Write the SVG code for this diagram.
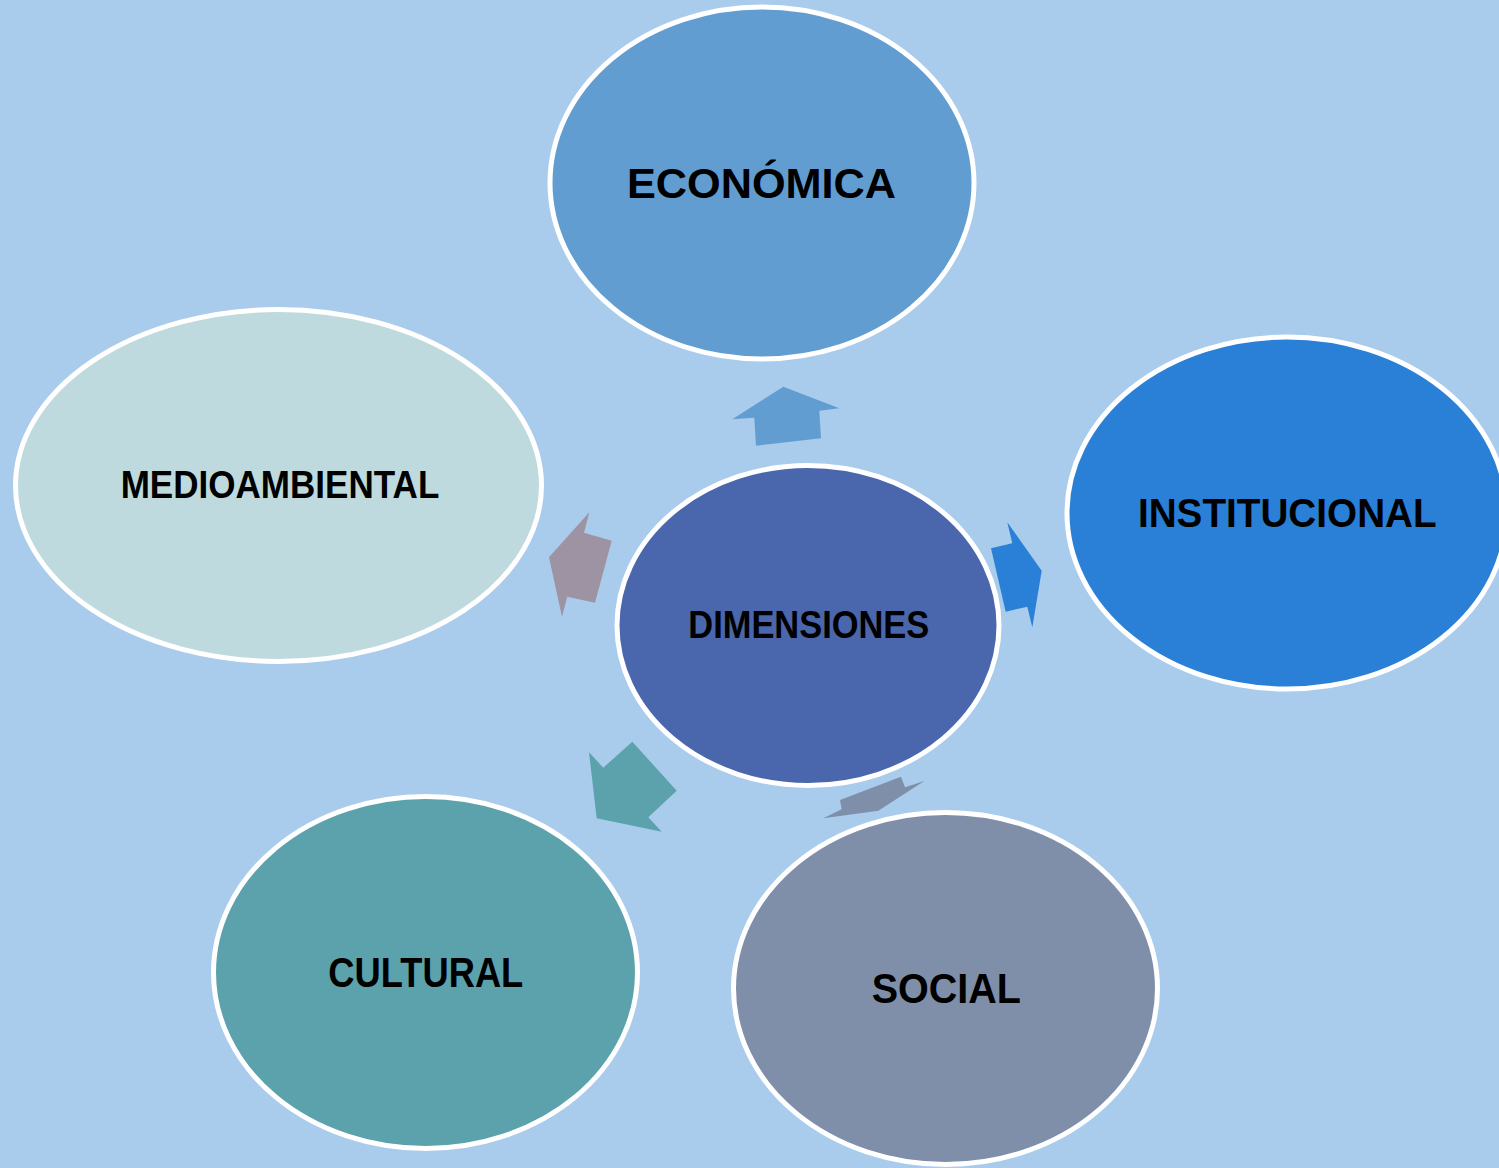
<svg xmlns="http://www.w3.org/2000/svg" width="1499" height="1168" viewBox="0 0 1499 1168">
<style>
.node{stroke:#FFFFFF;stroke-width:5}
.lbl{font-family:"Liberation Sans",Arial,sans-serif;font-weight:bold;fill:#000000;text-anchor:middle}
</style>
<rect x="0" y="0" width="1499" height="1168" fill="#A9CBEC"/>
<g id="connectors">
<polygon fill="#629DD1" points="783.3,386.7 839.3,408.3 819.3,410.7 821,438.3 756,445.7 754.3,417.7 732.3,419.3"/>
<polygon fill="#9E93A2" points="589.3,512.3 584,532.7 611.7,540.7 595,602.7 567.3,596.7 562,616.7 549,557.3"/>
<polygon fill="#2A7FD6" points="1007.3,522.3 1012.3,543.3 991,548.3 1005.7,611.7 1027.3,606.7 1032.3,627.3 1041.7,570.7"/>
<polygon fill="#5CA2AD" points="589,752.3 603.3,767.7 632.3,741.7 676.7,790.7 648.3,817.3 661.7,831.7 596.7,818.3"/>
<polygon fill="#7F8FA9" points="840,800 901,776.7 905,787.3 924.3,781 878.3,810.7 823.3,818.3 841.7,809.3"/>
</g>
<g id="node-economica">
<ellipse class="node" cx="762" cy="183" rx="212" ry="176" fill="#629DD1"/>
<text class="lbl" x="761.5" y="198.3" font-size="43" textLength="269" lengthAdjust="spacingAndGlyphs">ECONÓMICA</text>
</g>
<g id="node-institucional">
<ellipse class="node" cx="1287" cy="513" rx="220" ry="176" fill="#2A7FD6"/>
<text class="lbl" x="1287.3" y="526.7" font-size="41" textLength="298.7" lengthAdjust="spacingAndGlyphs">INSTITUCIONAL</text>
</g>
<g id="node-medioambiental">
<ellipse class="node" cx="278.5" cy="485.5" rx="263" ry="176" fill="#BEDADE"/>
<text class="lbl" x="280" y="498.3" font-size="39" textLength="318.7" lengthAdjust="spacingAndGlyphs">MEDIOAMBIENTAL</text>
</g>
<g id="node-dimensiones">
<ellipse class="node" cx="808" cy="625.5" rx="191" ry="160" fill="#4A66AC"/>
<text class="lbl" x="808.8" y="638.3" font-size="39" textLength="241" lengthAdjust="spacingAndGlyphs">DIMENSIONES</text>
</g>
<g id="node-cultural">
<ellipse class="node" cx="425.5" cy="972.5" rx="212" ry="176" fill="#5CA2AD"/>
<text class="lbl" x="425.8" y="986.7" font-size="42" textLength="195" lengthAdjust="spacingAndGlyphs">CULTURAL</text>
</g>
<g id="node-social">
<ellipse class="node" cx="945.5" cy="988.5" rx="212" ry="176" fill="#7F8FA9"/>
<text class="lbl" x="946.3" y="1002.7" font-size="42" textLength="149.3" lengthAdjust="spacingAndGlyphs">SOCIAL</text>
</g>
</svg>
